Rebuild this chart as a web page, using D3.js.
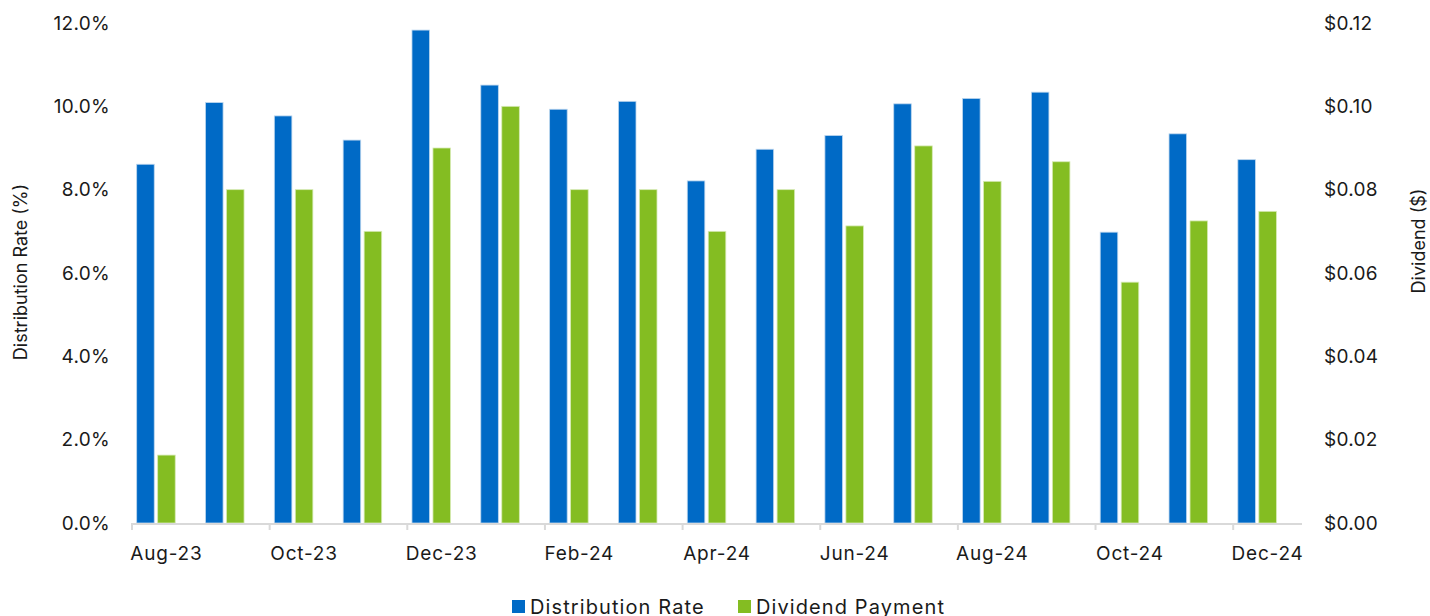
<!DOCTYPE html>
<html>
<head>
<meta charset="utf-8">
<script src="https://cdn.jsdelivr.net/npm/d3@7"></script>
<style>
  body { margin: 0; background: #fff; }
  svg text { font-family: Inter, "Noto Sans", sans-serif; fill: #1a1a1a; }
</style>
</head>
<body>
<div id="chart"></div>
<script>
// months shown on the x axis
var months = ["Aug-23", "Sep-23", "Oct-23", "Nov-23", "Dec-23", "Jan-24", "Feb-24", "Mar-24",
  "Apr-24", "May-24", "Jun-24", "Jul-24", "Aug-24", "Sep-24", "Oct-24", "Nov-24", "Dec-24"];

// distribution rate (%), left axis
var distributionRate = [8.61, 10.09, 9.77, 9.19, 11.83, 10.51, 9.93, 10.12,
  8.21, 8.97, 9.30, 10.06, 10.19, 10.34, 6.98, 9.34, 8.72];

// dividend payment ($), right axis
var dividendPayment = [0.0163, 0.08, 0.08, 0.07, 0.09, 0.10, 0.08, 0.08,
  0.07, 0.08, 0.0713, 0.0905, 0.082, 0.0867, 0.0578, 0.0725, 0.0748];

var leftTicks = [0, 2, 4, 6, 8, 10, 12];
var rightTicks = [0, 0.02, 0.04, 0.06, 0.08, 0.10, 0.12];
var labelledMonths = ["Aug-23", "Oct-23", "Dec-23", "Feb-24", "Apr-24", "Jun-24", "Aug-24", "Oct-24", "Dec-24"];

var W = 1430, H = 616;
var margin = { top: 23, right: 128, bottom: 93, left: 132 };
var width = W - margin.left - margin.right,
    height = H - margin.top - margin.bottom;

var blue = "#006ac6", green = "#84bd22";

var svg = d3.select("#chart")
  .append("svg")
  .attr("width", W)
  .attr("height", H);

var g = svg.append("g")
  .attr("transform", "translate(" + margin.left + "," + margin.top + ")");

var x = d3.scaleBand()
  .domain(months)
  .range([0, width])
  .padding(0);

var yLeft = d3.scaleLinear().domain([0, 12]).range([height, 0]);
var yRight = d3.scaleLinear().domain([0, 0.12]).range([height, 0]);

var bw = x.bandwidth();
var barW = bw * 0.255;

// blue bars
g.selectAll(".bar-rate")
  .data(months)
  .enter()
  .append("rect")
  .attr("class", "bar-rate")
  .attr("x", function(d) { return x(d) + bw * 0.068; })
  .attr("y", function(d, i) { return yLeft(distributionRate[i]); })
  .attr("width", barW)
  .attr("height", function(d, i) { return height - yLeft(distributionRate[i]); })
  .attr("fill", blue)
  .attr("stroke", "#bcd6ee")
  .attr("stroke-width", 0.8);

// green bars
g.selectAll(".bar-div")
  .data(months)
  .enter()
  .append("rect")
  .attr("class", "bar-div")
  .attr("x", function(d) { return x(d) + bw * 0.373; })
  .attr("y", function(d, i) { return yRight(dividendPayment[i]); })
  .attr("width", barW)
  .attr("height", function(d, i) { return height - yRight(dividendPayment[i]); })
  .attr("fill", green)
  .attr("stroke", "#d6eab4")
  .attr("stroke-width", 0.8);

// x axis line + ticks
g.append("line")
  .attr("x1", 0).attr("x2", width)
  .attr("y1", height + 1).attr("y2", height + 1)
  .attr("stroke", "#d9d9d9").attr("stroke-width", 2);

g.selectAll(".xtick")
  .data(labelledMonths)
  .enter()
  .append("line")
  .attr("x1", function(d) { return x(d); })
  .attr("x2", function(d) { return x(d); })
  .attr("y1", height).attr("y2", height + 7)
  .attr("stroke", "#d9d9d9").attr("stroke-width", 2);

g.selectAll(".xlabel")
  .data(labelledMonths)
  .enter()
  .append("text")
  .attr("x", function(d) { return x(d) + bw / 2; })
  .attr("y", height + 37)
  .attr("text-anchor", "middle")
  .style("font-size", "19px")
  .style("letter-spacing", "0.8px")
  .text(function(d) { return d; });

// left axis labels
g.selectAll(".ylabel-left")
  .data(leftTicks)
  .enter()
  .append("text")
  .attr("x", -22)
  .attr("y", function(d) { return yLeft(d); })
  .attr("dy", "0.35em")
  .attr("text-anchor", "end")
  .style("font-size", "19px")
  .style("letter-spacing", "0.3px")
  .text(function(d) { return d3.format(".1f")(d) + "%"; });

// right axis labels
g.selectAll(".ylabel-right")
  .data(rightTicks)
  .enter()
  .append("text")
  .attr("x", width + 22)
  .attr("y", function(d) { return yRight(d); })
  .attr("dy", "0.35em")
  .attr("text-anchor", "start")
  .style("font-size", "19px")
  .style("letter-spacing", "0.3px")
  .text(function(d) { return "$" + d3.format(".2f")(d); });

// axis titles
svg.append("text")
  .attr("transform", "translate(27,272) rotate(-90)")
  .attr("text-anchor", "middle")
  .style("font-size", "18px")
  .text("Distribution Rate (%)");

svg.append("text")
  .attr("transform", "translate(1425,241) rotate(-90)")
  .attr("text-anchor", "middle")
  .style("font-size", "18px")
  .text("Dividend ($)");

// legend
var legend = [
  { name: "Distribution Rate", color: blue, x: 512 },
  { name: "Dividend Payment", color: green, x: 738 }
];
var lg = svg.selectAll(".legend")
  .data(legend)
  .enter()
  .append("g")
  .attr("transform", function(d) { return "translate(" + d.x + ",600)"; });
lg.append("rect")
  .attr("width", 13).attr("height", 13)
  .attr("fill", function(d) { return d.color; });
lg.append("text")
  .attr("x", 18)
  .attr("y", 14)
  .style("font-size", "20px")
  .style("letter-spacing", "1.1px")
  .text(function(d) { return d.name; });
</script>
</body>
</html>
